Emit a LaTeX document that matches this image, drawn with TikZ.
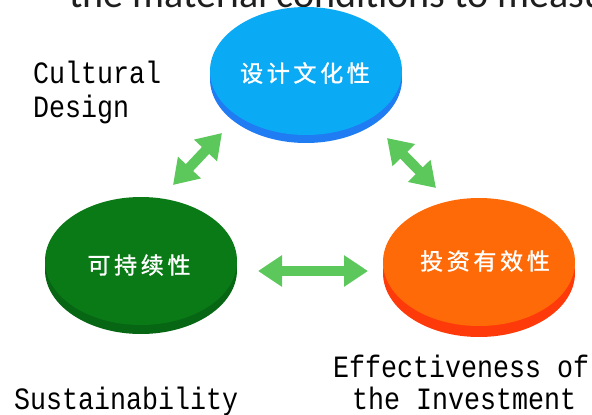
\documentclass[tikz,border=0pt]{standalone}
\usepackage{fontspec}
\usetikzlibrary{arrows.meta,shapes.geometric}
\newfontfamily\cjk[LetterSpace=16,FakeBold=1.2]{Noto Sans CJK SC}
\newfontfamily\monofnt[FakeStretch=0.86]{Liberation Mono}
\newfontfamily\calib{Carlito}
\definecolor{bluetop}{HTML}{0BAAF5}
\definecolor{blueside}{HTML}{1F7CF2}
\definecolor{greentop}{HTML}{0A7A16}
\definecolor{greenside}{HTML}{066614}
\definecolor{orangetop}{HTML}{FF6A08}
\definecolor{orangeside}{HTML}{FF3A0A}
\definecolor{arrowgreen}{HTML}{5CC85C}
\begin{document}
\begin{tikzpicture}[x=1pt,y=-1pt,
  disc/.style={ellipse,minimum width=192pt,minimum height=128pt,inner sep=0pt},
  cjklabel/.style={text=white,font=\cjk\fontsize{23}{27}\selectfont},
  eng/.style={font=\monofnt\fontsize{31}{34}\selectfont,anchor=base west,inner sep=0pt},
  dbl/.style={arrowgreen,line width=10pt,{Triangle[width=30pt,length=24pt]}-{Triangle[width=30pt,length=24pt]}}]
\useasboundingbox (0,0) rectangle (592,415);
\clip (0,0) rectangle (592,415);
% top cut-off caption
\node[anchor=base west,inner sep=0pt,text=black!88,font=\calib\fontsize{40}{44}\selectfont] (cap) at (69,7) {the material conditions to measure};
% discs
\node[disc,fill=blueside] (blueS) at (306,79) {};
\node[disc,fill=bluetop] (blue) at (306,71) {};
\node[disc,fill=greenside] (greenS) at (141,270) {};
\node[disc,fill=greentop] (green) at (141,261) {};
\node[disc,fill=orangeside] (orangeS) at (479,273) {};
\node[disc,fill=orangetop] (orange) at (479,262) {};
\node[cjklabel] (t1) at (305,73) {设计文化性};
\node[cjklabel] (t2) at (139,265) {可持续性};
\node[cjklabel] (t3) at (485,261) {投资有效性};
% arrows
\coordinate (a1) at (173,185);
\coordinate (a2) at (222,133);
\coordinate (b1) at (387,138);
\coordinate (b2) at (436,188);
\coordinate (c1) at (258,271);
\coordinate (c2) at (368,271);
\draw[dbl] (a1) -- (a2);
\draw[dbl] (b1) -- (b2);
\draw[dbl] (c1) -- (c2);
% English labels
\node[eng] (l1) at (33,83) {Cultural};
\node[eng] (l2) at (33,117) {Design};
\node[eng] (l3) at (333,377) {Effectiveness of};
\node[eng] (l4) at (352,409) {the Investment};
\node[eng] (l5) at (14,409) {Sustainability};
\end{tikzpicture}
\end{document}
